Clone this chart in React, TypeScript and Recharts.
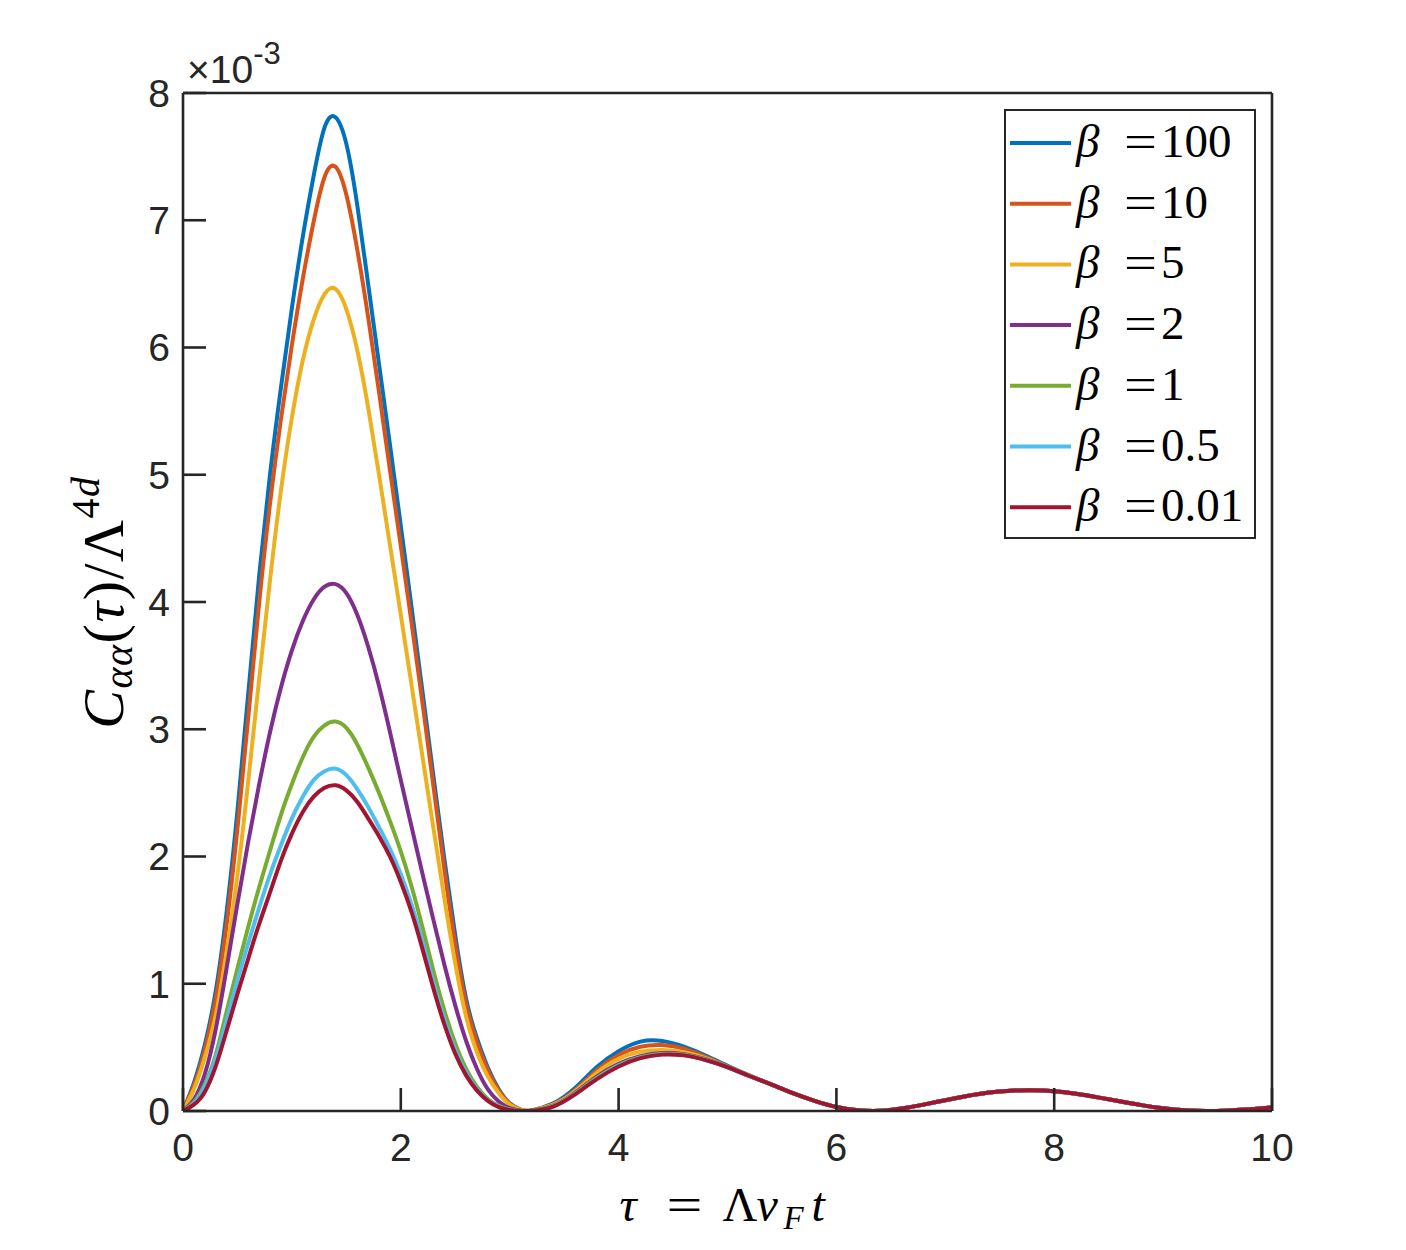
import React from "react";
import { Legend, Line, LineChart, XAxis, YAxis } from "recharts";

// sample positions (tau = Lambda v_F t)
const TAU = [
  0, 0.1, 0.2, 0.3, 0.4, 0.5, 0.6, 0.7, 0.8, 0.9, 1.0, 1.1, 1.2, 1.3, 1.4, 1.5, 1.6, 1.7, 1.8, 1.9, 2.0,
  2.1, 2.2, 2.3, 2.4, 2.5, 2.6, 2.7, 2.8, 2.9, 3.0, 3.1, 3.2,
  3.4, 3.6, 3.8, 4.0, 4.2, 4.4, 4.6, 4.8, 5.0, 5.2, 5.4, 5.6, 5.8, 6.0, 6.2, 6.4, 6.6, 6.8, 7.0, 7.2,
  7.4, 7.6, 7.8, 8.0, 8.2, 8.4, 8.6, 8.8, 9.0, 9.2, 9.4, 9.6, 9.8, 10.0,
];

// C_aa(tau)/Lambda^4d in units of 1e-3, one list per beta
const BETA_100 = [
  0, 0.22, 0.52, 0.94, 1.56, 2.36, 3.29, 4.21, 5.01, 5.69, 6.31, 6.87, 7.35, 7.73, 7.81, 7.6, 7.12, 6.5, 5.87, 5.24, 4.6,
  3.95, 3.29, 2.63, 1.98, 1.38, 0.88, 0.57, 0.34, 0.17, 0.06, 0.01, 0.005,
  0.06, 0.18, 0.345, 0.47, 0.545, 0.55, 0.505, 0.435, 0.355, 0.28, 0.21, 0.14, 0.08, 0.032, 0.006, 0.002, 0.02, 0.05, 0.085, 0.118,
  0.145, 0.16, 0.163, 0.155, 0.135, 0.107, 0.076, 0.046, 0.022, 0.006, 0, 0.004, 0.013, 0.027,
];
const BETA_10 = [
  0, 0.2, 0.48, 0.88, 1.46, 2.22, 3.1, 4.0, 4.78, 5.44, 6.02, 6.54, 6.99, 7.34, 7.42, 7.2, 6.77, 6.24, 5.65, 5.04, 4.44,
  3.83, 3.2, 2.55, 1.9, 1.31, 0.84, 0.54, 0.32, 0.16, 0.058, 0.01, 0.005,
  0.055, 0.165, 0.32, 0.44, 0.505, 0.518, 0.49, 0.425, 0.35, 0.278, 0.21, 0.14, 0.08, 0.032, 0.006, 0.002, 0.02, 0.05, 0.085, 0.118,
  0.145, 0.16, 0.163, 0.155, 0.135, 0.107, 0.076, 0.046, 0.022, 0.006, 0, 0.004, 0.013, 0.027,
];
const BETA_5 = [
  0, 0.17, 0.42, 0.75, 1.25, 1.85, 2.6, 3.4, 4.18, 4.88, 5.45, 5.9, 6.22, 6.42, 6.46, 6.3, 5.98, 5.53, 5.0, 4.45, 3.9,
  3.34, 2.78, 2.22, 1.67, 1.16, 0.74, 0.46, 0.27, 0.14, 0.05, 0.008, 0.004,
  0.05, 0.155, 0.3, 0.41, 0.465, 0.48, 0.462, 0.415, 0.348, 0.276, 0.21, 0.14, 0.08, 0.032, 0.006, 0.002, 0.02, 0.05, 0.085, 0.118,
  0.145, 0.16, 0.163, 0.155, 0.135, 0.107, 0.076, 0.046, 0.022, 0.006, 0, 0.004, 0.013, 0.027,
];
const BETA_2 = [
  0, 0.09, 0.29, 0.64, 1.12, 1.63, 2.12, 2.57, 2.98, 3.33, 3.62, 3.85, 4.02, 4.12, 4.14, 4.07, 3.9, 3.65, 3.34, 2.98, 2.6,
  2.23, 1.86, 1.5, 1.15, 0.83, 0.55, 0.33, 0.17, 0.075, 0.022, 0.003, 0.003,
  0.042, 0.142, 0.27, 0.37, 0.43, 0.455, 0.447, 0.407, 0.345, 0.275, 0.21, 0.14, 0.08, 0.032, 0.006, 0.002, 0.02, 0.05, 0.085, 0.118,
  0.145, 0.16, 0.163, 0.155, 0.135, 0.107, 0.076, 0.046, 0.022, 0.006, 0, 0.004, 0.013, 0.027,
];
const BETA_1 = [
  0, 0.07, 0.21, 0.44, 0.78, 1.12, 1.45, 1.76, 2.05, 2.33, 2.57, 2.78, 2.94, 3.03, 3.06, 3.01, 2.88, 2.7, 2.5, 2.28, 2.04,
  1.76, 1.44, 1.1, 0.79, 0.53, 0.33, 0.19, 0.095, 0.04, 0.012, 0.002, 0.002,
  0.04, 0.138, 0.262, 0.362, 0.423, 0.449, 0.442, 0.403, 0.345, 0.275, 0.21, 0.14, 0.08, 0.032, 0.006, 0.002, 0.02, 0.05, 0.085, 0.118,
  0.145, 0.16, 0.163, 0.155, 0.135, 0.107, 0.076, 0.046, 0.022, 0.006, 0, 0.004, 0.013, 0.027,
];
const BETA_05 = [
  0, 0.06, 0.19, 0.41, 0.71, 1.03, 1.32, 1.6, 1.86, 2.09, 2.3, 2.47, 2.6, 2.67, 2.69, 2.64, 2.53, 2.39, 2.23, 2.06, 1.86,
  1.62, 1.33, 1.01, 0.72, 0.48, 0.3, 0.17, 0.085, 0.035, 0.01, 0.002, 0.002,
  0.037, 0.134, 0.256, 0.356, 0.418, 0.446, 0.439, 0.401, 0.345, 0.275, 0.21, 0.14, 0.08, 0.032, 0.006, 0.002, 0.02, 0.05, 0.085, 0.118,
  0.145, 0.16, 0.163, 0.155, 0.135, 0.107, 0.076, 0.046, 0.022, 0.006, 0, 0.004, 0.013, 0.027,
];
const BETA_001 = [
  0, 0.05, 0.15, 0.35, 0.63, 0.92, 1.2, 1.47, 1.72, 1.97, 2.18, 2.35, 2.47, 2.54, 2.56, 2.52, 2.43, 2.3, 2.16, 2.0, 1.8,
  1.56, 1.27, 0.96, 0.68, 0.45, 0.28, 0.16, 0.08, 0.03, 0.008, 0.001, 0.002,
  0.035, 0.13, 0.25, 0.35, 0.415, 0.443, 0.437, 0.4, 0.345, 0.275, 0.21, 0.14, 0.08, 0.032, 0.006, 0.002, 0.02, 0.05, 0.085, 0.118,
  0.145, 0.16, 0.163, 0.155, 0.135, 0.107, 0.076, 0.046, 0.022, 0.006, 0, 0.004, 0.013, 0.027,
];

const BETA_LABELS = ["100", "10", "5", "2", "1", "0.5", "0.01"];
const X_TICKS = [0, 2, 4, 6, 8, 10];
const Y_TICKS = [0, 1, 2, 3, 4, 5, 6, 7, 8];

// MATLAB default line order
const SERIES = [
  { key: "b100", values: BETA_100, color: "#0072BD" },
  { key: "b10", values: BETA_10, color: "#D95319" },
  { key: "b5", values: BETA_5, color: "#EDB120" },
  { key: "b2", values: BETA_2, color: "#7E2F8E" },
  { key: "b1", values: BETA_1, color: "#77AC30" },
  { key: "b05", values: BETA_05, color: "#4DBEEE" },
  { key: "b001", values: BETA_001, color: "#A2142F" },
];
const SERIES_ORDER = SERIES.map((s) => s.key);

const data = TAU.map((tau, i) => {
  const row: Record<string, number> = { tau };
  SERIES.forEach((s) => {
    row[s.key] = s.values[i];
  });
  return row;
});

const AXIS = "#262626";
const SANS = '"Liberation Sans", Arial, Helvetica, sans-serif';
const SERIF = '"Liberation Serif", "Times New Roman", serif';
const tickStyle = { fill: AXIS, fontSize: 39, fontFamily: SANS };

function XTitle(props: any) {
  const vb = props.viewBox ?? { x: 183, y: 1111, width: 1089, height: 40 };
  const cx = vb.x + vb.width / 2;
  const base = vb.y + 110;
  return (
    <text y={base} fontFamily={SERIF} fontSize={48} fill="#000">
      <tspan x={cx - 108} fontStyle="italic">τ</tspan>
      <tspan x={cx - 61} textLength={36} lengthAdjust="spacingAndGlyphs">=</tspan>
      <tspan x={cx - 5}>Λ</tspan>
      <tspan x={cx + 29} fontStyle="italic">v</tspan>
      <tspan x={cx + 56} fontStyle="italic" fontSize={33} dy={8}>F</tspan>
      <tspan x={cx + 84} fontStyle="italic" dy={-8}>t</tspan>
    </text>
  );
}

function YTitle(props: any) {
  const vb = props.viewBox ?? { x: 123, y: 93, width: 60, height: 1018 };
  const cy = vb.y + vb.height / 2;
  return (
    <g>
      <text
        transform={`translate(${vb.x}, ${cy}) rotate(-90)`}
        textAnchor="middle"
        fontFamily={SERIF}
        fontSize={58}
        letterSpacing={1.5}
        fill="#000"
      >
        <tspan fontStyle="italic">C</tspan>
        <tspan fontStyle="italic" fontSize={40} dy={9}>αα</tspan>
        <tspan dy={-9}>(</tspan>
        <tspan fontStyle="italic">τ</tspan>
        <tspan>)/Λ</tspan>
        <tspan fontSize={40} dy={-24}>4</tspan>
        <tspan fontStyle="italic" fontSize={40}>d</tspan>
      </text>
      <text x={vb.x + vb.width + 4} y={vb.y - 10} fontFamily={SANS} fontSize={39} fill={AXIS}>
        <tspan>×10</tspan>
        <tspan fontSize={31} dy={-19}>-3</tspan>
      </text>
    </g>
  );
}

function LegendBox(props: any) {
  const payload = [...(props.payload ?? [])].sort(
    (a: any, b: any) => SERIES_ORDER.indexOf(a.dataKey) - SERIES_ORDER.indexOf(b.dataKey),
  );
  return (
    <div style={{ border: `2.6px solid ${AXIS}`, background: "#fff", width: 248, height: 426 }}>
      <svg width={248} height={426} style={{ display: "block" }}>
        {payload.map((entry: any, i: number) => {
          const y = 32 + i * 60.7;
          return (
            <g key={String(entry.dataKey)}>
              <line x1={4} x2={65} y1={y} y2={y} stroke={entry.color} strokeWidth={4} />
              <text y={y + 14} fontFamily={SERIF} fontSize={47} fill="#000">
                <tspan x={70} fontStyle="italic">β</tspan>
                <tspan x={118} textLength={33} lengthAdjust="spacingAndGlyphs">=</tspan>
                <tspan x={155}>{String(entry.value).replace(/^β =/, "")}</tspan>
              </text>
            </g>
          );
        })}
      </svg>
    </div>
  );
}

export default function App() {
  return (
    <div style={{ position: "absolute", left: 0, top: 0, width: 1406, height: 1250, background: "#fff" }}>
      <LineChart width={1406} height={1250} data={data} margin={{ top: 92, right: 133, bottom: 99, left: 123 }}>
        <XAxis
          dataKey="tau"
          type="number"
          domain={[0, 10]}
          ticks={X_TICKS}
          interval={0}
          allowDataOverflow
          height={40}
          tickSize={-23}
          tickMargin={45}
          tick={tickStyle}
          axisLine={{ stroke: AXIS, strokeWidth: 2.6 }}
          tickLine={{ stroke: AXIS, strokeWidth: 2.6 }}
          label={{ content: XTitle }}
        />
        <XAxis
          xAxisId="top"
          orientation="top"
          type="number"
          domain={[0, 10]}
          ticks={X_TICKS}
          interval={0}
          allowDataOverflow
          height={1}
          tickSize={-23}
          tick={false}
          axisLine={{ stroke: AXIS, strokeWidth: 2.6 }}
          tickLine={{ stroke: AXIS, strokeWidth: 2.6 }}
        />
        <YAxis
          type="number"
          domain={[0, 8]}
          ticks={Y_TICKS}
          interval={0}
          allowDataOverflow
          width={60}
          tickSize={-23}
          tickMargin={36}
          tick={tickStyle}
          axisLine={{ stroke: AXIS, strokeWidth: 2.6 }}
          tickLine={{ stroke: AXIS, strokeWidth: 2.6 }}
          label={{ content: YTitle }}
        />
        <YAxis
          yAxisId="right"
          orientation="right"
          type="number"
          domain={[0, 8]}
          ticks={Y_TICKS}
          interval={0}
          allowDataOverflow
          width={1}
          tickSize={-23}
          tick={false}
          axisLine={{ stroke: AXIS, strokeWidth: 2.6 }}
          tickLine={{ stroke: AXIS, strokeWidth: 2.6 }}
        />
        <Legend
          layout="vertical"
          align="center"
          verticalAlign="middle"
          content={LegendBox}
          wrapperStyle={{ left: 1004, top: 109, width: 253 }}
        />
        {SERIES.map((s, i) => (
          <Line
            key={s.key}
            type="natural"
            dataKey={s.key}
            name={`β =${BETA_LABELS[i]}`}
            stroke={s.color}
            strokeWidth={4}
            dot={false}
            activeDot={false}
            isAnimationActive={false}
          />
        ))}
      </LineChart>
    </div>
  );
}
